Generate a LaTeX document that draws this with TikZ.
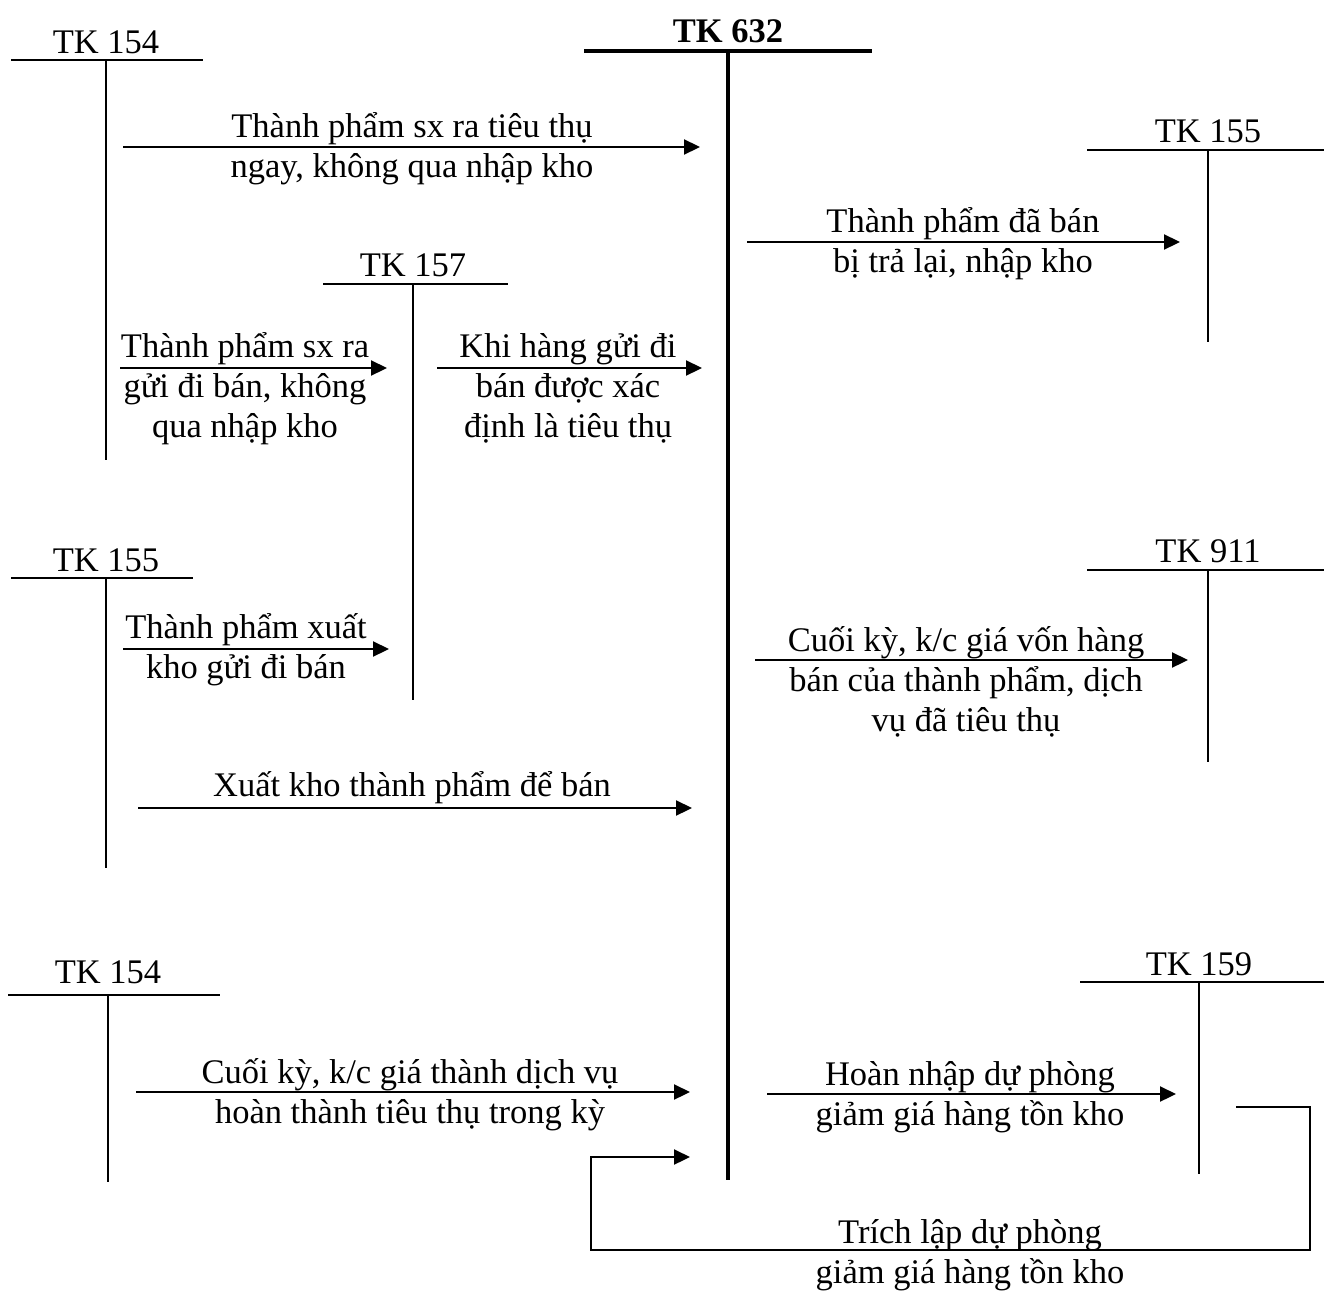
\documentclass[tikz,border=0pt]{standalone}
\usepackage{fontspec}
\setmainfont{Liberation Serif}
\usetikzlibrary{arrows.meta}
\begin{document}
\begin{tikzpicture}[x=1pt,y=-1pt,
  every node/.style={inner sep=0pt, outer sep=0pt, align=center,
    font=\fontsize{34.5}{40}\selectfont},
  % anchored on the baseline of the last line
  lbl/.style={anchor=base},
  acct/.style={line width=2.2pt},
  mainacct/.style={line width=4pt},
  flow/.style={line width=2.2pt, -{Triangle[length=16pt,width=15pt]}},
]
\useasboundingbox (0,0) rectangle (1324,1290);

% ---- T-accounts ----
% TK 632 (central account)
\node[lbl,font=\fontsize{34.5}{40}\selectfont\bfseries] (k632) at (728,43) {TK 632};
\coordinate (k632L) at (584,51); \coordinate (k632R) at (872,51);
\coordinate (k632T) at (728,51); \coordinate (k632B) at (728,1180);
\draw[mainacct] (k632L) -- (k632R) (k632T) -- (k632B);

% TK 154 (top left)
\node[lbl] (k154a) at (106,53) {TK 154};
\coordinate (k154aL) at (11,60); \coordinate (k154aR) at (203,60);
\coordinate (k154aT) at (106,60); \coordinate (k154aB) at (106,460);
\draw[acct] (k154aL) -- (k154aR) (k154aT) -- (k154aB);

% TK 155 (top right)
\node[lbl] (k155b) at (1208,142) {TK 155};
\coordinate (k155bL) at (1087,150); \coordinate (k155bR) at (1324,150);
\coordinate (k155bT) at (1208,150); \coordinate (k155bB) at (1208,342);
\draw[acct] (k155bL) -- (k155bR) (k155bT) -- (k155bB);

% TK 157
\node[lbl] (k157) at (413,276) {TK 157};
\coordinate (k157L) at (323,284); \coordinate (k157R) at (508,284);
\coordinate (k157T) at (413,284); \coordinate (k157B) at (413,700);
\draw[acct] (k157L) -- (k157R) (k157T) -- (k157B);

% TK 155 (left)
\node[lbl] (k155a) at (106,571) {TK 155};
\coordinate (k155aL) at (11,578); \coordinate (k155aR) at (193,578);
\coordinate (k155aT) at (106,578); \coordinate (k155aB) at (106,868);
\draw[acct] (k155aL) -- (k155aR) (k155aT) -- (k155aB);

% TK 911
\node[lbl] (k911) at (1208,562) {TK 911};
\coordinate (k911L) at (1087,570); \coordinate (k911R) at (1324,570);
\coordinate (k911T) at (1208,570); \coordinate (k911B) at (1208,762);
\draw[acct] (k911L) -- (k911R) (k911T) -- (k911B);

% TK 154 (bottom left)
\node[lbl] (k154b) at (108,983) {TK 154};
\coordinate (k154bL) at (8,995); \coordinate (k154bR) at (220,995);
\coordinate (k154bT) at (108,995); \coordinate (k154bB) at (108,1182);
\draw[acct] (k154bL) -- (k154bR) (k154bT) -- (k154bB);

% TK 159
\node[lbl] (k159) at (1199,975) {TK 159};
\coordinate (k159L) at (1080,982); \coordinate (k159R) at (1324,982);
\coordinate (k159T) at (1199,982); \coordinate (k159B) at (1199,1174);
\draw[acct] (k159L) -- (k159R) (k159T) -- (k159B);

% ---- Flows ----
\coordinate (f1s) at (123,147); \coordinate (f1e) at (700,147);
\draw[flow] (f1s) -- (f1e);
\node[lbl] (t1) at (412,177) {Thành phẩm sx ra tiêu thụ\\ngay, không qua nhập kho};

\coordinate (f2s) at (747,242); \coordinate (f2e) at (1180,242);
\draw[flow] (f2s) -- (f2e);
\node[lbl] (t2) at (963,272) {Thành phẩm đã bán\\bị trả lại, nhập kho};

\coordinate (f3s) at (120,368); \coordinate (f3e) at (387,368);
\draw[flow] (f3s) -- (f3e);
\node[lbl] (t3) at (245,437) {Thành phẩm sx ra\\gửi đi bán, không\\qua nhập kho};

\coordinate (f4s) at (437,368); \coordinate (f4e) at (702,368);
\draw[flow] (f4s) -- (f4e);
\node[lbl] (t4) at (568,437) {Khi hàng gửi đi\\bán được xác\\định là tiêu thụ};

\coordinate (f5s) at (123,649); \coordinate (f5e) at (389,649);
\draw[flow] (f5s) -- (f5e);
\node[lbl] (t5) at (246,678) {Thành phẩm xuất\\kho gửi đi bán};

\coordinate (f6s) at (755,660); \coordinate (f6e) at (1188,660);
\draw[flow] (f6s) -- (f6e);
\node[lbl] (t6) at (966,731) {Cuối kỳ, k/c giá vốn hàng\\bán của thành phẩm, dịch\\vụ đã tiêu thụ};

\coordinate (f7s) at (138,808); \coordinate (f7e) at (692,808);
\draw[flow] (f7s) -- (f7e);
\node[lbl] (t7) at (412,796) {Xuất kho thành phẩm để bán};

\coordinate (f8s) at (136,1092); \coordinate (f8e) at (690,1092);
\draw[flow] (f8s) -- (f8e);
\node[lbl] (t8) at (410,1123) {Cuối kỳ, k/c giá thành dịch vụ\\hoàn thành tiêu thụ trong kỳ};

\coordinate (f9s) at (767,1094); \coordinate (f9e) at (1176,1094);
\draw[flow] (f9s) -- (f9e);
\node[lbl] (t9) at (970,1125) {Hoàn nhập dự phòng\\giảm giá hàng tồn kho};

% provision loop from TK 159 back to TK 632
\coordinate (f10s) at (1236,1107); \coordinate (f10a) at (1310,1107);
\coordinate (f10b) at (1310,1250); \coordinate (f10c) at (591,1250);
\coordinate (f10d) at (591,1157); \coordinate (f10e) at (690,1157);
\draw[flow,line join=miter] (f10s) -- (f10a) -- (f10b) -- (f10c) -- (f10d) -- (f10e);
\node[lbl] (t10) at (970,1283) {Trích lập dự phòng\\giảm giá hàng tồn kho};
\end{tikzpicture}
\end{document}
